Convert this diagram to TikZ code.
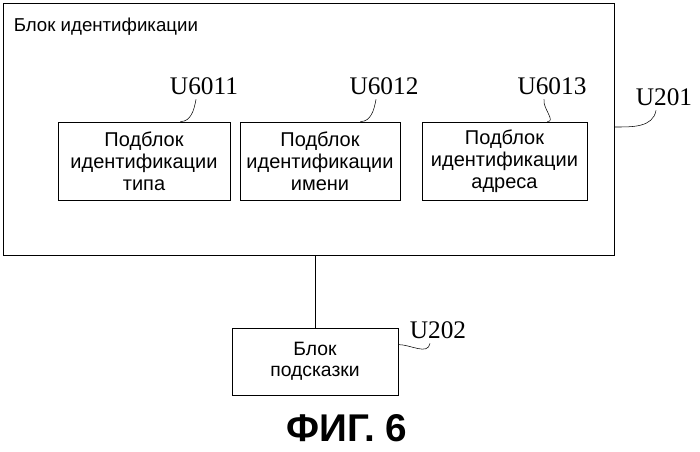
\documentclass[tikz,border=0pt]{standalone}
\usepackage{fontspec}
\setmainfont{Liberation Sans}
\newfontfamily\labelfont{Liberation Serif}
\begin{document}
\begin{tikzpicture}[x=0.75pt,y=-0.75pt,semithick,
  sub block/.style={draw,align=center,inner sep=0pt,font=\fontsize{15}{16.5}\selectfont},
  ref label/.style={font=\labelfont\fontsize{19}{20}\selectfont},
  leader/.style={thin}]
  \useasboundingbox (0,0) rectangle (700,452);

  % outer unit
  \node[draw,minimum width=611*0.75pt,minimum height=252*0.75pt,inner sep=0pt] (unit) at (308.5,129) {};
  \node[anchor=west,font=\fontsize{14}{15}\selectfont] (unittitle) at (9,27) {Блок идентификации};

  % sub blocks
  \node[sub block,minimum width=172*0.75pt,minimum height=78*0.75pt] (type) at (144,161) {Подблок\\идентификации\\типа};
  \node[sub block,minimum width=160*0.75pt,minimum height=78*0.75pt] (name) at (320,161) {Подблок\\идентификации\\имени};
  \node[sub block,minimum width=165*0.75pt,minimum height=78*0.75pt] (addr) at (504.5,161) {Подблок\\идентификации\\адреса};

  % hint block
  \node[draw,align=center,minimum width=166*0.75pt,minimum height=67*0.75pt,inner sep=0pt,font=\fontsize{14.5}{16}\selectfont] (hint) at (315,361.5) {Блок\\подсказки};
  \draw (hint.north) -- (hint.north |- unit.south);

  % reference labels
  \node[ref label] (l1) at (204,86) {U6011};
  \node[ref label] (l2) at (384,86) {U6012};
  \node[ref label] (l3) at (552,86) {U6013};
  \node[ref label] (l4) at (664,97) {U201};
  \node[ref label] (l5) at (438,330) {U202};
  \draw[leader] (type.north east) ++(-50,0) to[out=0,in=-100] ([xshift=-6pt]l1.south);
  \draw[leader] (name.north east) ++(-40,0) to[out=0,in=-100] ([xshift=-6pt]l2.south);
  \draw[leader] (addr.north east) ++(-40,0) to[out=0,in=-100] ([xshift=-6pt]l3.south);
  \draw[leader] (unit.east) ++(0,-2) to[out=0,in=-100] ([xshift=-6pt]l4.south);
  \draw[leader] (hint.north east) ++(0,17) to[out=0,in=-100] ([xshift=-6pt]l5.south);

  % figure caption
  \node[font=\bfseries\fontsize{29}{32}\selectfont] (caption) at (347,428) {ФИГ. 6};
\end{tikzpicture}
\end{document}
